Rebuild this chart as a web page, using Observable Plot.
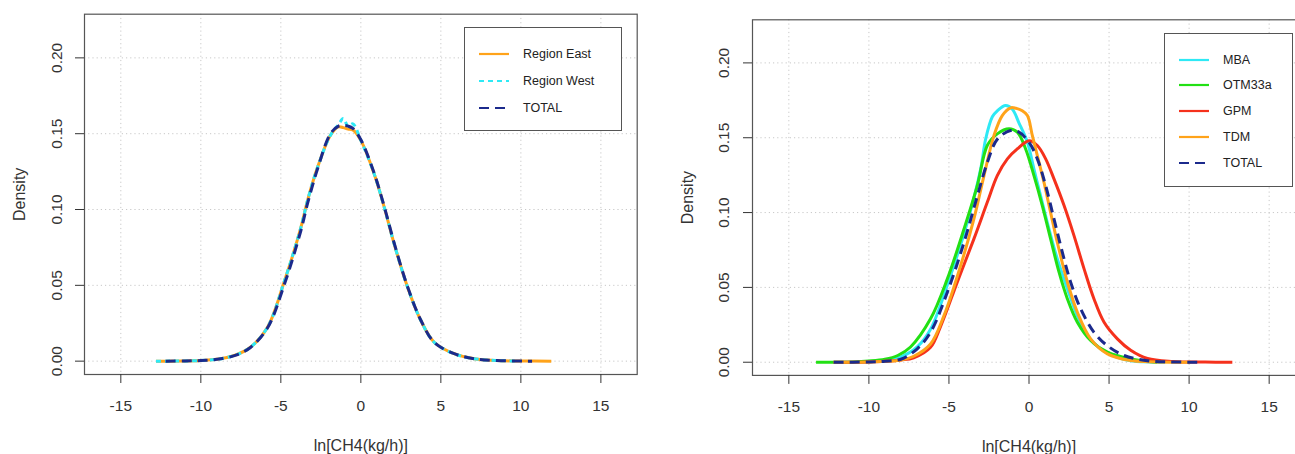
<!DOCTYPE html>
<html><head><meta charset="utf-8">
<script src="https://cdn.jsdelivr.net/npm/d3@7"></script>
<script src="https://cdn.jsdelivr.net/npm/@observablehq/plot@0.6"></script>
<style>
html,body{margin:0;padding:0;background:#fff;overflow:hidden;width:1295px;height:454px;}
#wrap{position:relative;width:1295px;height:454px;overflow:hidden;font-family:"Liberation Sans",Arial,sans-serif;}
.panel{position:absolute;top:0;}
.legend{position:absolute;border:1.2px solid #555;background:#fff;box-sizing:border-box;}
.row{position:absolute;left:0;height:0;}
.row svg{position:absolute;top:-5px;}
.row span{position:absolute;top:-8px;font-size:12.5px;line-height:16px;color:#222;white-space:nowrap;}
</style>
</head><body>
<div id="wrap"></div>
<script>
// ---------- Data ----------
const xTicks = [-15, -10, -5, 0, 5, 10, 15];
const yTicks = [0, 0.05, 0.10, 0.15, 0.20];
const xLabel = "ln[CH4(kg/h)]";
const yLabel = "Density";

// Left panel
const leftNames = ["Region East", "Region West", "TOTAL"];
const eastX = [-12.8,-11,-10,-9,-7.9,-6.9,-5.83,-4.8,-3.75,-3.33,-2.7,-1.9,-1.4,-1.1,-0.8,-0.5,0,0.83,1.46,2.08,2.92,3.75,4.58,5.83,7.08,8.5,10,11.9];
const eastY = [0,0.0001,0.0004,0.0012,0.0038,0.0092,0.0224,0.052,0.088,0.106,0.128,0.149,0.1545,0.154,0.153,0.1525,0.1456,0.1236,0.1016,0.0774,0.0488,0.0268,0.0125,0.0049,0.0016,0.0004,0.0001,0];
const westX = [-12.8,-11,-10,-9,-7.9,-6.9,-5.83,-4.8,-3.75,-3.33,-2.7,-1.9,-1.4,-1.1,-0.8,-0.5,0,0.83,1.46,2.08,2.92,3.75,4.58,5.83,7.08,8.5,9.8];
const westY = [0,0.0001,0.0004,0.0012,0.0038,0.0092,0.0224,0.052,0.088,0.106,0.128,0.149,0.156,0.160,0.155,0.1565,0.1456,0.1236,0.1016,0.0774,0.0488,0.0268,0.0125,0.0049,0.0016,0.0004,0.0001];
const totalLX = [-12.2,-11,-10,-9,-7.9,-6.9,-5.83,-4.8,-3.75,-3.33,-2.7,-1.9,-1.4,-1.1,-0.8,-0.5,0,0.83,1.46,2.08,2.92,3.75,4.58,5.83,7.08,8.5,10.7];
const totalLY = [0,0.0001,0.0004,0.0012,0.0036,0.009,0.022,0.050,0.086,0.104,0.127,0.150,0.155,0.1555,0.155,0.1535,0.146,0.124,0.102,0.078,0.049,0.027,0.0125,0.0049,0.0016,0.0004,0];

// Right panel
const rightNames = ["MBA", "OTM33a", "GPM", "TDM", "TOTAL"];
const mbaX = [-12.2,-10,-9,-8,-6.98,-6.15,-4.9,-3.85,-3.02,-2.71,-2.29,-1.98,-1.46,-1.04,-0.63,-0.1,0.31,0.73,1.25,1.77,2.4,3.02,3.65,4.48,5.52,6.35,7.5,8.5];
const mbaY = [0,0.0003,0.0012,0.0036,0.0102,0.022,0.058,0.0935,0.129,0.149,0.164,0.168,0.1715,0.169,0.160,0.147,0.129,0.111,0.089,0.069,0.049,0.031,0.0178,0.0089,0.0033,0.001,0.0002,0];
const otmX = [-13.3,-11,-10,-9,-8.2,-7.4,-6.15,-5.1,-4.06,-3.23,-2.6,-1.98,-1.25,-0.73,-0.21,0.31,0.83,1.35,1.88,2.4,3.02,3.85,4.9,6.35,8];
const otmY = [0,0.0002,0.0008,0.002,0.0045,0.0102,0.029,0.0557,0.089,0.118,0.145,0.1526,0.156,0.1537,0.1425,0.1247,0.1047,0.0824,0.060,0.0423,0.0267,0.0145,0.0067,0.0022,0];
const gpmX = [-12.2,-10,-9,-8,-7.2,-6.15,-5.52,-4.48,-3.44,-2.6,-1.98,-1.35,-0.73,0,0.52,1.04,1.56,2.19,2.81,3.44,4.06,4.69,5.52,6.35,7.4,9,11,12.7];
const gpmY = [0,0.0002,0.0006,0.0015,0.003,0.010,0.024,0.0535,0.0824,0.107,0.1247,0.1359,0.1425,0.148,0.1448,0.1359,0.1225,0.1047,0.0846,0.0624,0.0423,0.0267,0.0156,0.008,0.0025,0.0005,0.0001,0];
const tdmX = [-12.2,-10,-9,-8,-7.2,-6.15,-5.31,-4.27,-3.44,-2.81,-2.19,-1.67,-1.15,-0.83,-0.42,-0.1,0.21,0.52,0.94,1.35,1.77,2.4,3.02,3.85,4.9,6.35,7.5,10.1];
const tdmY = [0,0.0002,0.0006,0.0015,0.004,0.0122,0.0312,0.0646,0.0958,0.1247,0.1514,0.1648,0.170,0.1697,0.168,0.1648,0.1514,0.138,0.120,0.100,0.080,0.0535,0.0334,0.0156,0.0056,0.0011,0.0004,0];
const totalRX = [-12.2,-10,-9,-8,-6.98,-6.15,-5.1,-4.06,-3.23,-2.6,-1.98,-1.15,-0.63,0,0.52,1.04,1.56,2.08,2.6,3.23,4.06,4.9,5.94,7.5,9,10.7];
const totalRY = [0,0.0002,0.0007,0.002,0.009,0.020,0.0468,0.080,0.111,0.1336,0.149,0.1548,0.1537,0.147,0.1359,0.118,0.0958,0.0735,0.0535,0.0356,0.020,0.011,0.0045,0.0008,0.0002,0];

// ---------- Styles ----------
const ORANGE = "#ffa31a", CYAN = "#2ee9f5", NAVY = "#1b2a8c", GREEN = "#22e014", RED = "#f5311c";
const leftStyles = [
  {stroke: ORANGE, dash: null},
  {stroke: CYAN, dash: "5,4"},
  {stroke: NAVY, dash: "10,6"}
];
const rightStyles = [
  {stroke: CYAN, dash: null},
  {stroke: GREEN, dash: null},
  {stroke: RED, dash: null},
  {stroke: ORANGE, dash: null},
  {stroke: NAVY, dash: "10,6"}
];

const toRows = (xs, ys) => xs.map((x, i) => ({x, y: ys[i]}));

function panel(series, styles, g) {
  const marks = [
    Plot.gridX(xTicks, {stroke: "#c8c8c8", strokeOpacity: 1, strokeDasharray: "1.2,3"}),
    Plot.gridY(yTicks, {stroke: "#c8c8c8", strokeOpacity: 1, strokeDasharray: "1.2,3"}),
  ];
  series.forEach((s, i) => {
    marks.push(Plot.line(s, {x: "x", y: "y", stroke: styles[i].stroke, strokeWidth: 3,
      strokeDasharray: styles[i].dash, curve: "catmull-rom", strokeLinecap: "butt"}));
  });
  marks.push(
    Plot.frame({stroke: "#555", strokeWidth: 1.2}),
    Plot.axisX({ticks: xTicks, tickSize: 9, tickPadding: 16.5, fontSize: 15.5, label: null,
      tickFormat: d => String(d)}),
    Plot.axisY({ticks: yTicks, tickSize: 9, tickRotate: -90, tickPadding: g.yPad, fontSize: 15.5,
      label: null, tickFormat: d => d.toFixed(2)}),
    Plot.text([yLabel], {text: d => d, frameAnchor: "left", dx: g.yLabDx, rotate: -90,
      fontSize: 16, lineAnchor: "middle", textAnchor: "middle"}),
    Plot.text([xLabel], {text: d => d, frameAnchor: "bottom", dy: 71, fontSize: 16,
      lineAnchor: "middle", textAnchor: "middle"})
  );
  return Plot.plot({
    width: g.width, height: 454,
    marginLeft: g.ml, marginRight: g.mr, marginTop: g.mt, marginBottom: g.mb,
    x: {domain: [-17.27, 17.27], axis: null},
    y: {domain: [-0.0088, 0.2288], axis: null},
    style: {fontFamily: '"Liberation Sans", Arial, sans-serif', color: "#333", background: "transparent", overflow: "visible"},
    marks
  });
}

function legend(container, names, styles, box, rows, lineX, textX) {
  const div = document.createElement("div");
  div.className = "legend";
  Object.assign(div.style, {left: box.l + "px", top: box.t + "px", width: (box.r - box.l) + "px", height: (box.b - box.t) + "px"});
  names.forEach((n, i) => {
    const row = document.createElement("div");
    row.className = "row";
    row.style.top = (rows[i] - box.t) + "px";
    const svg = document.createElementNS("http://www.w3.org/2000/svg", "svg");
    svg.setAttribute("width", 34); svg.setAttribute("height", 10);
    svg.style.left = (lineX - box.l - 2) + "px";
    const ln = document.createElementNS("http://www.w3.org/2000/svg", "line");
    ln.setAttribute("x1", 2); ln.setAttribute("x2", 32); ln.setAttribute("y1", 5); ln.setAttribute("y2", 5);
    ln.setAttribute("stroke", styles[i].stroke); ln.setAttribute("stroke-width", 2.2);
    if (styles[i].dash) ln.setAttribute("stroke-dasharray", styles[i].dash);
    svg.appendChild(ln);
    row.appendChild(svg);
    const sp = document.createElement("span");
    sp.textContent = n;
    sp.style.left = (textX - box.l) + "px";
    row.appendChild(sp);
    div.appendChild(row);
  });
  container.appendChild(div);
}

const wrap = document.getElementById("wrap");

const leftSeries = [toRows(eastX, eastY), toRows(westX, westY), toRows(totalLX, totalLY)];
const p1 = panel(leftSeries, leftStyles, {width: 650, ml: 84, mr: 13.3, mt: 13.7, mb: 80, yPad: 13.5, yLabDx: -65});
p1.classList.add("panel"); p1.style.left = "0px";
wrap.appendChild(p1);

const rightSeries = [toRows(mbaX, mbaY), toRows(otmX, otmY), toRows(gpmX, gpmY), toRows(tdmX, tdmY), toRows(totalRX, totalRY)];
const p2 = panel(rightSeries, rightStyles, {width: 660, ml: 102, mr: 5, mt: 19.3, mb: 79.1, yPad: 14.5, yLabDx: -65});
p2.classList.add("panel"); p2.style.left = "650px";
wrap.appendChild(p2);

legend(wrap, leftNames, leftStyles, {l: 464, t: 26.7, r: 622, b: 131}, [53.3, 80, 106.7], 477.7, 522);
legend(wrap, rightNames, rightStyles, {l: 1164, t: 32.7, r: 1293, b: 187.3}, [59, 84.3, 110, 136, 162.3], 1177.7, 1222);
</script>
</body></html>
